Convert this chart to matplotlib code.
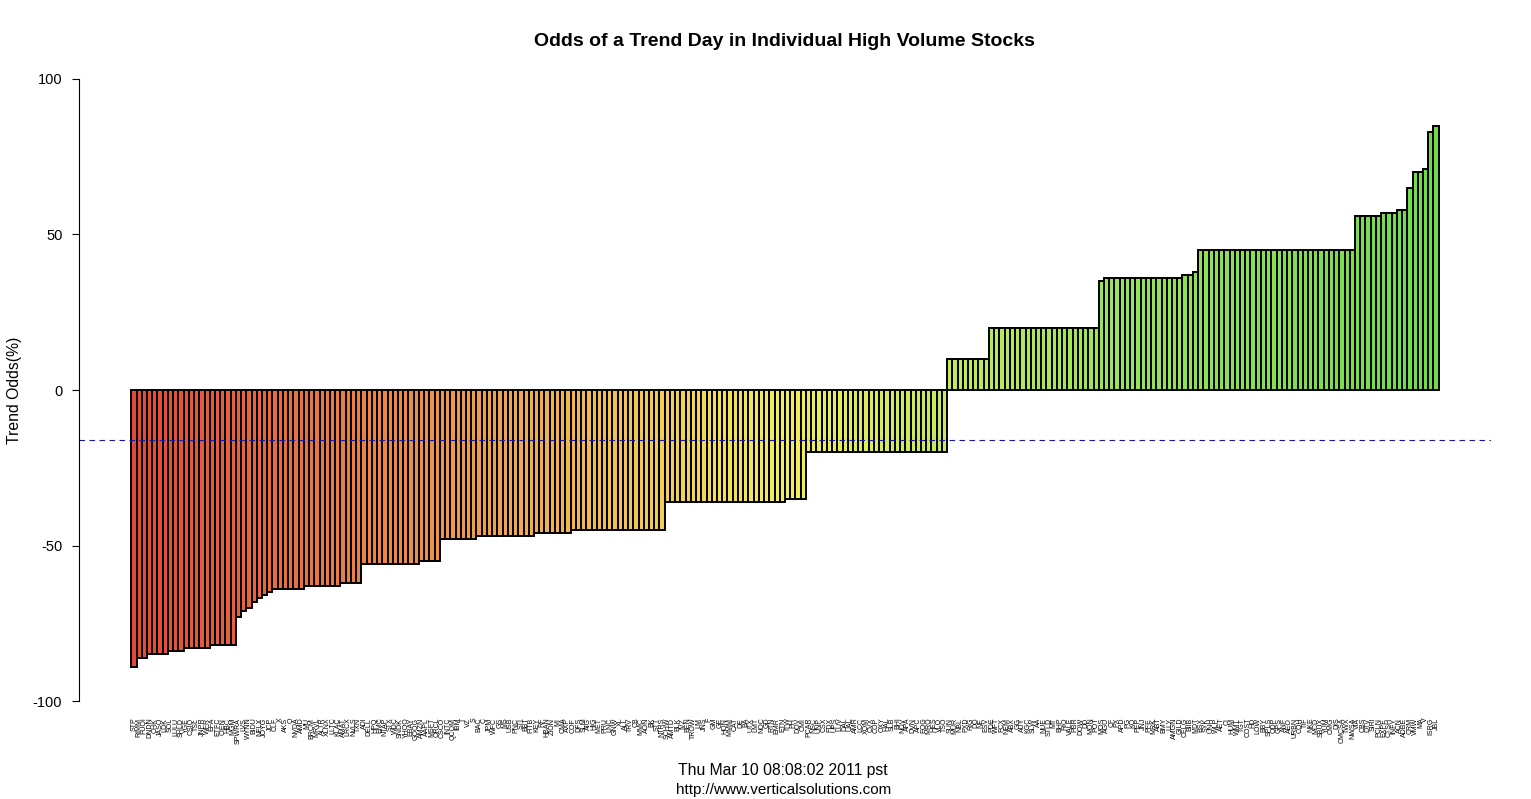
import matplotlib
matplotlib.use("Agg")
import matplotlib.pyplot as plt
import numpy as np
from matplotlib.colors import LinearSegmentedColormap

# ---------------- data ----------------
values = [
    -89,
    -86, -86,
    -85, -85, -85, -85,
    -84, -84, -84,
    -83, -83, -83, -83, -83,
    -82, -82, -82, -82, -82,
    -73, -71, -70, -68, -67, -66, -65,
    -64, -64, -64, -64, -64, -64,
    -63, -63, -63, -63, -63, -63, -63,
    -62, -62, -62, -62,
    -56, -56, -56, -56, -56, -56, -56, -56, -56, -56, -56,
    -55, -55, -55, -55,
    -48, -48, -48, -48, -48, -48, -48,
    -47, -47, -47, -47, -47, -47, -47, -47, -47, -47, -47,
    -46, -46, -46, -46, -46, -46, -46,
    -45, -45, -45, -45, -45, -45, -45, -45, -45, -45, -45, -45, -45, -45, -45, -45, -45, -45,
    -36, -36, -36, -36, -36, -36, -36, -36, -36, -36, -36, -36, -36, -36, -36, -36, -36, -36, -36, -36, -36, -36, -36,
    -35, -35, -35, -35,
    -20, -20, -20, -20, -20, -20, -20, -20, -20, -20, -20, -20, -20, -20, -20, -20, -20, -20, -20, -20, -20, -20, -20, -20, -20, -20, -20,
    10, 10, 10, 10, 10, 10, 10, 10,
    20, 20, 20, 20, 20, 20, 20, 20, 20, 20, 20, 20, 20, 20, 20, 20, 20, 20, 20, 20, 20,
    35,
    36, 36, 36, 36, 36, 36, 36, 36, 36, 36, 36, 36, 36, 36, 36,
    37, 37,
    38,
    45, 45, 45, 45, 45, 45, 45, 45, 45, 45, 45, 45, 45, 45, 45, 45, 45, 45, 45, 45, 45, 45, 45, 45, 45, 45, 45, 45, 45, 45,
    56, 56, 56, 56, 56,
    57, 57, 57,
    58, 58,
    65,
    70, 70,
    71,
    83,
    85,
]

symbols = [
    "STP", "RIMM", "FUQI", "DNDN", "CHK", "JASO", "LDK", "SOL", "LULU", "SHLD",
    "YGE", "CSIQ", "TSL", "JNPR", "WFR", "EFA", "ETFC", "CIEN", "HBC", "MGM",
    "SPWRA", "LVS", "WYNN", "BIDU", "NFLX", "JOYG", "JCP", "CLF", "X", "AKS",
    "O", "NVDA", "AMD", "MU", "BRCM", "MRVL", "ALTR", "XLNX", "LLTC", "KLAC",
    "AMAT", "LRCX", "NVLS", "TXN", "ADI", "DELL", "HPQ", "EMC", "NTAP", "STX",
    "WDC", "SNDK", "YHOO", "EBAY", "GOOG", "AMZN", "AAPL", "MSFT", "ORCL", "CSCO",
    "INTC", "QCOM", "IBM", "T", "VZ", "S", "BAC", "C", "JPM", "WFC",
    "GS", "MS", "USB", "PNC", "STI", "BBT", "FITB", "KEY", "RF", "HBAN",
    "ZION", "MI", "CMA", "AXP", "COF", "DFS", "SLM", "AIG", "HIG", "MET",
    "PRU", "LNC", "GNW", "XL", "ALL", "TRV", "CB", "MMC", "AON", "BK",
    "STT", "NTRS", "SCHW", "AMTD", "BLK", "IVZ", "BEN", "TROW", "LM", "JNS",
    "F", "GM", "GE", "HON", "MMM", "CAT", "DE", "BA", "UTX", "LMT",
    "NOC", "GD", "RTN", "EMR", "ETN", "ITW", "PH", "DOV", "CMI", "PCAR",
    "NSC", "UNP", "CSX", "FDX", "UPS", "LUV", "DAL", "UAL", "AMR", "LCC",
    "XOM", "CVX", "COP", "OXY", "HAL", "SLB", "BHI", "NOV", "APA", "DVN",
    "APC", "EOG", "MRO", "HES", "VLO", "TSO", "SUN", "MUR", "NBL", "PXD",
    "RIG", "DO", "NE", "ESV", "PDE", "WFT", "FCX", "NEM", "ABX", "GG",
    "AUY", "KGC", "SLW", "AA", "NUE", "STLD", "MT", "BHP", "RIO", "VALE",
    "PBR", "DOW", "DD", "MON", "POT", "MOS", "AGU", "CF", "PX", "APD",
    "PG", "KO", "PEP", "JNJ", "PFE", "MRK", "ABT", "BMY", "LLY", "AMGN",
    "GILD", "CELG", "BIIB", "MDT", "BSX", "SYK", "UNH", "WLP", "AET", "CI",
    "HUM", "WMT", "TGT", "COST", "HD", "LOW", "BBY", "SPLS", "ODP", "GPS",
    "ANF", "AEO", "URBN", "COH", "TIF", "NKE", "MCD", "SBUX", "YUM", "CMG",
    "DIS", "CMCSA", "TWX", "NWSA", "VIA", "CBS", "DTV", "SIRI", "PCLN", "EXPE",
    "CTSH", "INFY", "ACN", "ADBE", "CRM", "VMW", "MA", "V", "ISRG", "JBL",
]

yticks = [-100, -50, 0, 50, 100]
title = "Odds of a Trend Day in Individual High Volume Stocks"
ylabel = "Trend Odds(%)"
sub1 = "Thu Mar 10 08:08:02 2011 pst"
sub2 = "http://www.verticalsolutions.com"

# ---------------- figure ----------------
W, H = 1531, 799
fig = plt.figure(figsize=(W / 100, H / 100), dpi=100)
fig.patch.set_facecolor("white")
plt.rcParams["font.family"] = ["Liberation Sans", "DejaVu Sans"]

px_left, px_right, px_top, px_bottom = 79, 1491, 54, 726
ax = fig.add_axes([px_left / W, 1 - px_bottom / H,
                   (px_right - px_left) / W, (px_bottom - px_top) / H])

n = len(values)
x = np.arange(n)
cmap = LinearSegmentedColormap.from_list(
    "ryg", ["#E24A38", "#EE9A4A", "#F3EE5C", "#9BE35A", "#6FDB4A"])
colors = cmap(np.linspace(0, 1, n))

ax.bar(x, values, width=1.0, color=colors, edgecolor="black", linewidth=1.4)

mean_val = float(np.mean(values))
ax.axhline(mean_val, color="#1A1AA0", linewidth=0.8, linestyle=(0, (5, 4)))

ax.set_xlim(-10.5, n - 0.5 + 10)
ax.set_ylim(-108, 108)

for s in ["top", "right", "bottom"]:
    ax.spines[s].set_visible(False)
ax.spines["left"].set_bounds(-100, 100)
ax.spines["left"].set_linewidth(0.8)

ax.set_yticks(yticks)
ax.set_yticklabels([str(v) for v in yticks], fontsize=10.5)
ax.tick_params(axis="y", length=5, width=0.8, pad=7)

ax.set_xticks(x)
ax.set_xticklabels(symbols[:n], rotation=90, fontsize=5, va="top", ha="center")
ax.tick_params(axis="x", length=0, pad=-6)

fig.text(784 / W, 1 - 41 / H, title, ha="center", va="center",
         fontsize=14, fontweight="bold")
fig.text(15 / W, 1 - 390 / H, ylabel, ha="center", va="center",
         rotation=90, fontsize=11.3)
fig.text(783 / W, 1 - 770 / H, sub1, ha="center", va="center", fontsize=11.3)
fig.text(784 / W, 1 - 790 / H, sub2, ha="center", va="center", fontsize=11)

fig.savefig("out.png", dpi=100, facecolor="white")
